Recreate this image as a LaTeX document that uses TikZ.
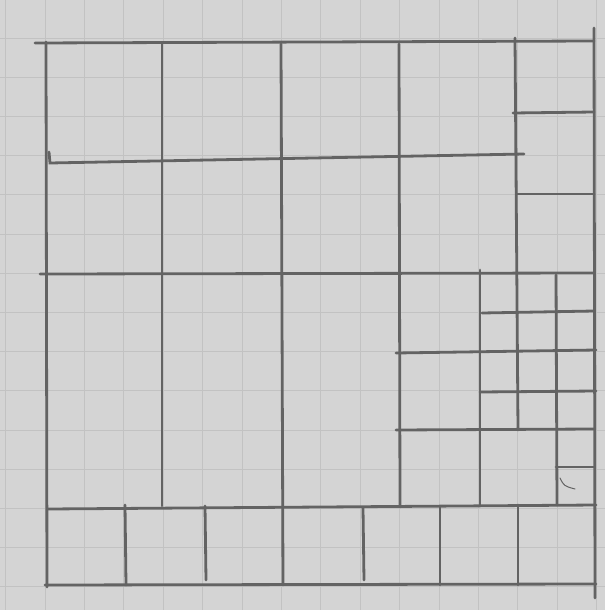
\documentclass[tikz,border=0pt]{standalone}
\usetikzlibrary{positioning}
\definecolor{paper}{HTML}{D4D4D4}
\definecolor{pencil}{HTML}{636363}
\definecolor{ruling}{HTML}{C2C2C2}
\tikzset{
  sheet/.style={fill=paper,draw=none},
  ruled/.style={ruling,line width=0.8pt},
  pen/.style={pencil,line width=2.8pt,line cap=round},
  scrawl/.style={pencil,line width=1pt,line cap=round},
}
\begin{document}
\begin{tikzpicture}[x=1pt,y=-1pt]
    % ------------- squared paper -------------
    \path[sheet] (0,0) rectangle (605,610);
    \useasboundingbox (0,0) rectangle (605,610);
    \foreach \i in {0,...,15}
      \draw[ruled] ({5.6+39.4*\i},0) -- ({5.6+39.4*\i},610);
    \foreach \j in {0,...,14}
      \draw[ruled] (0,{38+39.2*\j}) -- (605,{38+39.2*\j});
    % ------------- outer square -------------
    \draw[pen] (35,43) -- (594,41);
    \draw[pen] (46,42) -- (47,587);
    \draw[pen] (594,28) -- (595,598);
    \draw[pen] (45,585) -- (596,584);
    % ------------- long horizontals -------------
    \draw[pen] (49,152) -- (50,163) -- (524,154);
    \draw[pen] (40,274) -- (594,273);
    \draw[pen] (48,509) -- (596,505);
    % ------------- long verticals -------------
    \draw[pen] (162,44) -- (162,506);
    \draw[pen] (281,44) -- (283,585);
    \draw[pen] (399,44) -- (400,507);
    \draw[pen] (515,38) -- (518,430);
    % ------------- right column, top -------------
    \draw[pen] (513,113) -- (594,112);
    \draw[pen] (517,194) -- (594,194);
    % ------------- right block, small squares -------------
    \draw[pen] (480,270) -- (480,505);
    \draw[pen] (556,275) -- (557,505);
    \draw[pen] (482,313) -- (594,311);
    \draw[pen] (396,353) -- (596,350);
    \draw[pen] (480,392) -- (596,391);
    \draw[pen] (396,430) -- (594,429);
    \draw[pen] (556,467) -- (594,467);
    \draw[scrawl] (560,478) .. controls (564,486) .. (575,489);
    % ------------- bottom strip -------------
    \draw[pen] (125,505) -- (126,585);
    \draw[pen] (205,506) -- (206,580);
    \draw[pen] (363,508) -- (364,580);
    \draw[pen] (440,507) -- (440,585);
    \draw[pen] (518,505) -- (518,585);
  \end{tikzpicture}
\end{document}
